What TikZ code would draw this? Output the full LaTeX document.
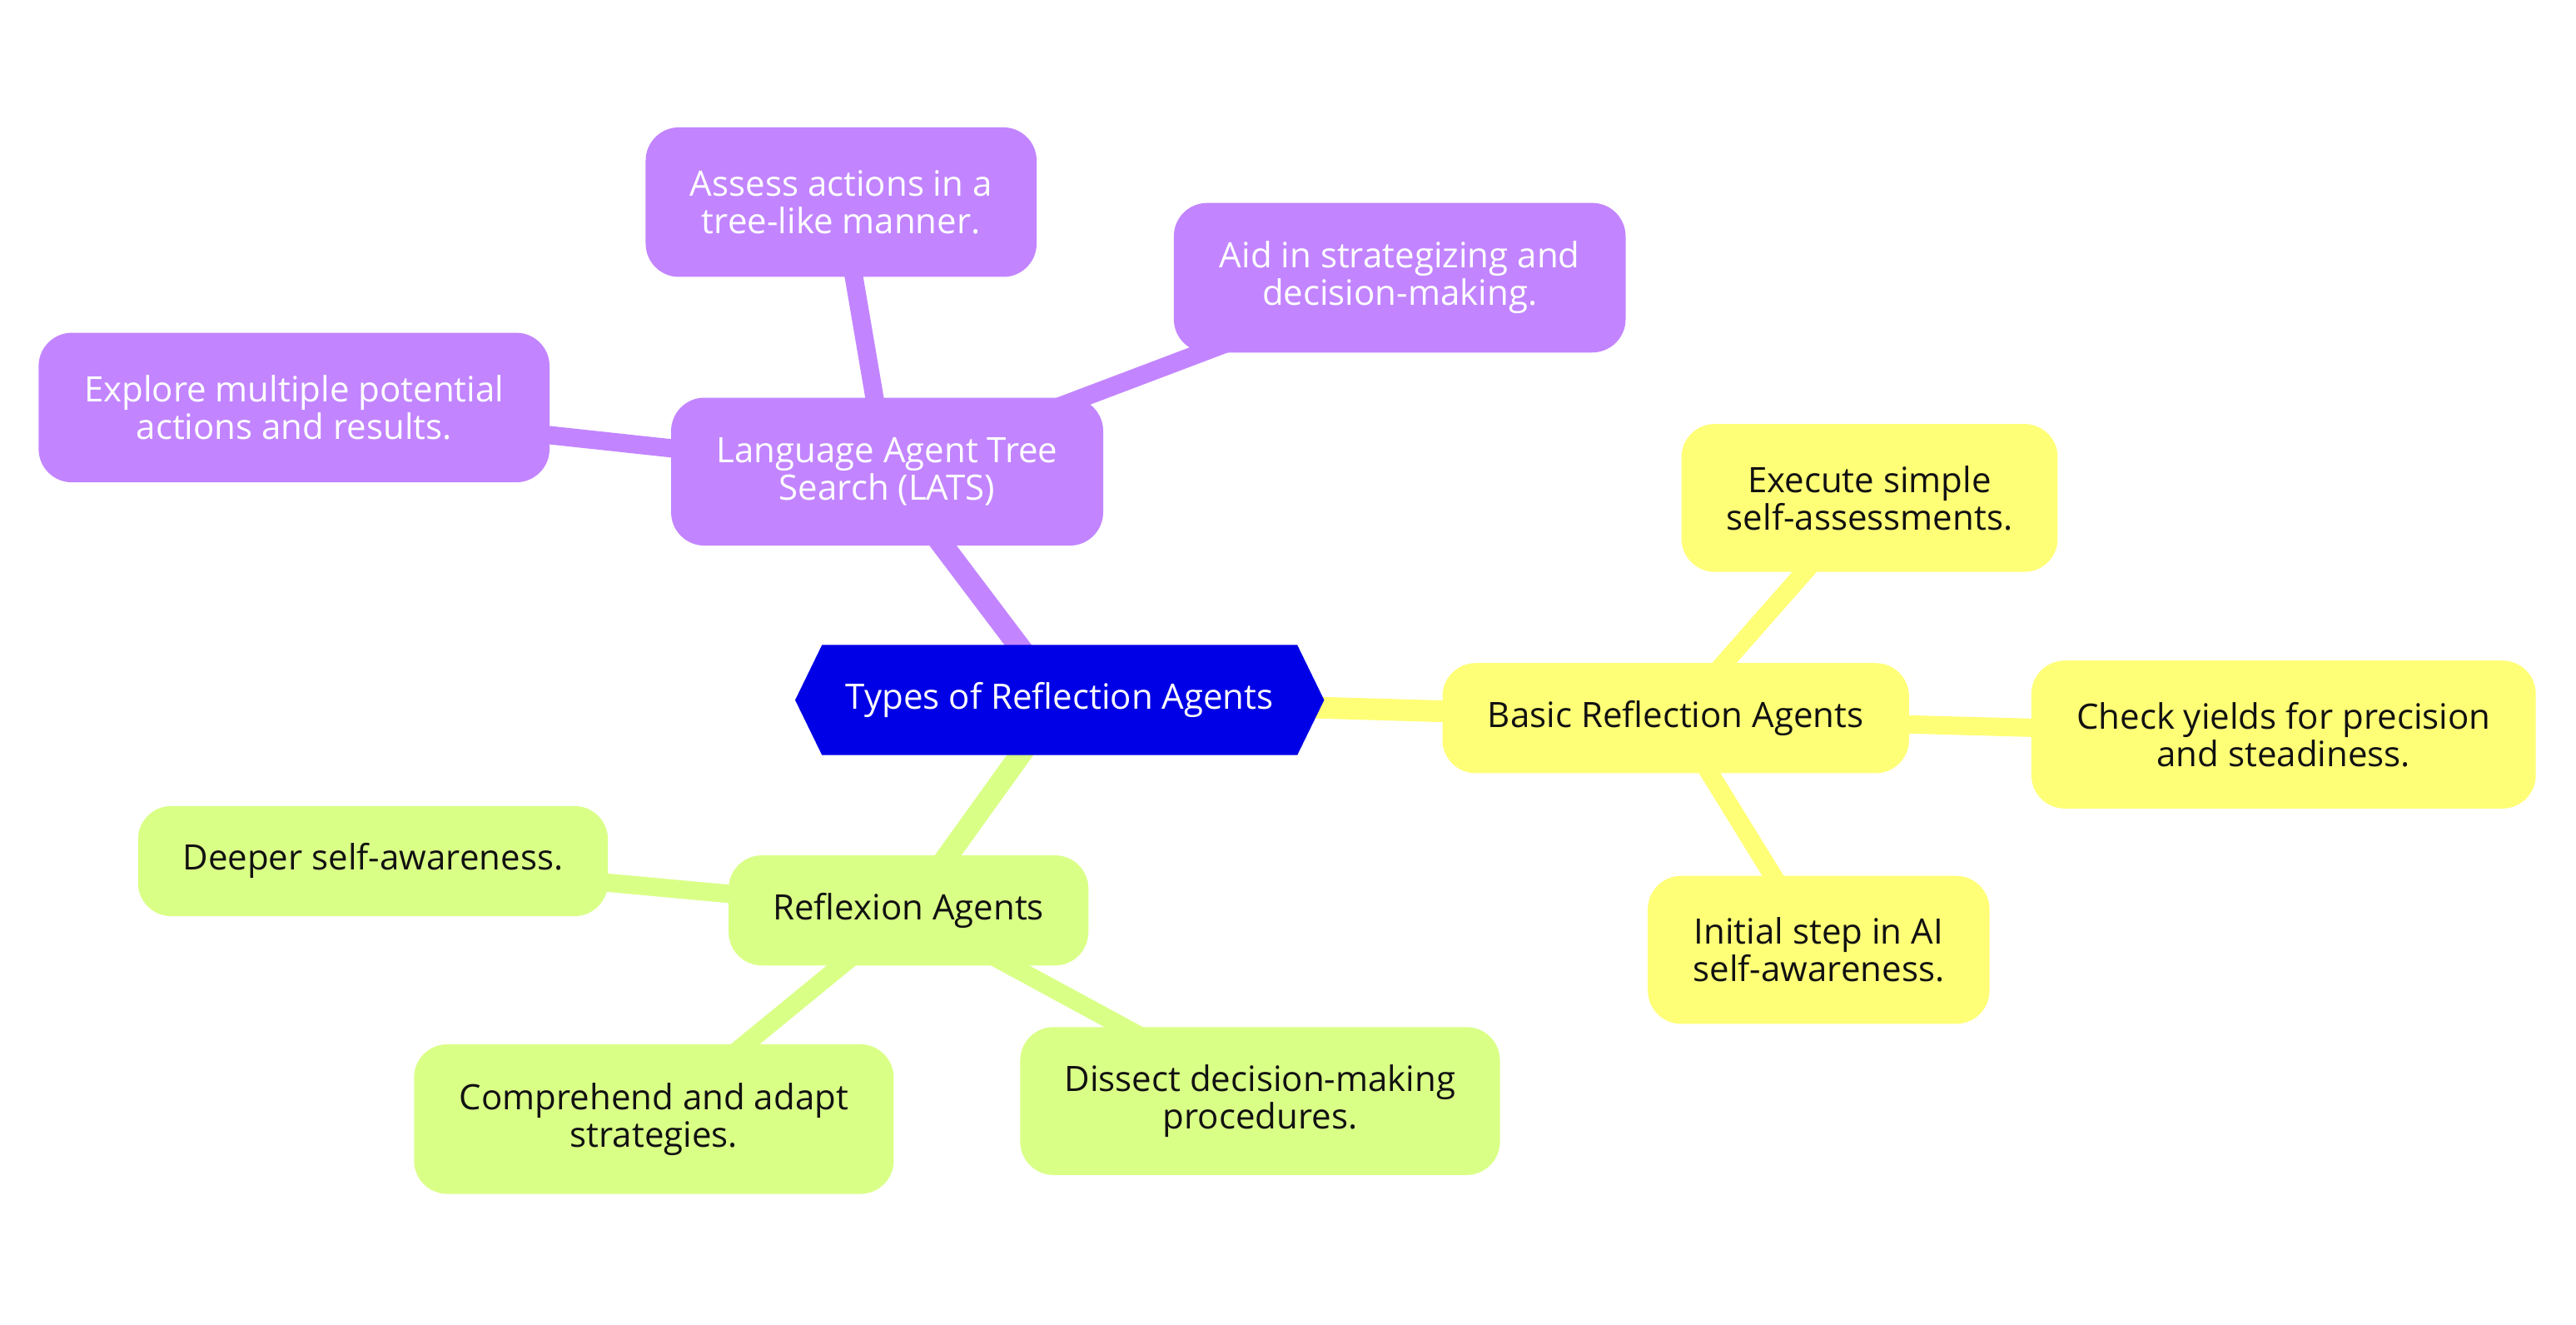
\documentclass[tikz,border=0pt]{standalone}
\usepackage{fontspec}
\setmainfont{Open Sans}
\usetikzlibrary{shapes.symbols}
\definecolor{cpurple}{HTML}{C285FF}
\definecolor{cyellow}{HTML}{FFFF77}
\definecolor{cgreen}{HTML}{DAFF87}
\definecolor{cblue}{HTML}{0000E6}
\definecolor{ctext}{HTML}{111111}
\pgfdeclarelayer{bg}
\pgfsetlayers{bg,main}
\tikzset{
  sz/.style 2 args={minimum width=#1*1.973pt, minimum height=#2*1.973pt},
  mbox/.style={rounded corners=40pt, align=center, inner sep=0pt,
     font=\fontsize{42}{45}\selectfont},
  pbox/.style={mbox, fill=cpurple, text=white},
  ybox/.style={mbox, fill=cyellow, text=ctext},
  gbox/.style={mbox, fill=cgreen, text=ctext},
  pline/.style={draw=cpurple, line width=22pt},
  yline/.style={draw=cyellow, line width=22pt},
  gline/.style={draw=cgreen, line width=22pt},
}
\begin{document}
\begin{tikzpicture}[x=1.973pt, y=-1.973pt]
\useasboundingbox (0,0) rectangle (1568,806);
% nodes
\node[signal, signal to=east and west, signal pointer angle=128, fill=cblue, text=white,
      inner sep=0pt, sz={322}{67}, font=\fontsize{42}{45}\selectfont] (root) at (645,426) {Types of Reflection Agents};
\node[pbox, sz={263}{90}] (lats) at (540,287) {Language Agent Tree\\Search (LATS)};
\node[pbox, sz={238}{91}] (assess) at (512,123) {Assess actions in a\\tree-like manner.};
\node[pbox, sz={275}{91}] (aid) at (852,169) {Aid in strategizing and\\decision-making.};
\node[pbox, sz={311}{91}] (explore) at (179,248) {Explore multiple potential\\actions and results.};
\node[ybox, sz={284}{67}] (basic) at (1020,437) {Basic Reflection Agents};
\node[ybox, sz={229}{90}] (execute) at (1138,303) {Execute simple\\self-assessments.};
\node[ybox, sz={307}{90}] (check) at (1390,447) {Check yields for precision\\and steadiness.};
\node[ybox, sz={208}{90}] (initial) at (1107,578) {Initial step in AI\\self-awareness.};
\node[gbox, sz={219}{67}] (reflexion) at (553,554) {Reflexion Agents};
\node[gbox, sz={286}{67}] (deeper) at (227,524) {Deeper self-awareness.};
\node[gbox, sz={292}{91}] (comprehend) at (398,681) {Comprehend and adapt\\strategies.};
\node[gbox, sz={292}{90}] (dissect) at (767,670) {Dissect decision-making\\procedures.};
% connectors behind
\begin{pgfonlayer}{bg}
\fill[white] (0,0) rectangle (1568,806);
\draw[pline, line width=26pt] (root.center) -- (lats.center);
\draw[pline] (lats.center) -- (assess.center);
\draw[pline] (lats.center) -- (aid.center);
\draw[pline] (lats.center) -- (explore.center);
\draw[yline, line width=26pt] (root.center) -- (basic.center);
\draw[yline] (basic.center) -- (execute.center);
\draw[yline] (basic.center) -- (check.center);
\draw[yline] (basic.center) -- (initial.center);
\draw[gline, line width=26pt] (root.center) -- (reflexion.center);
\draw[gline] (reflexion.center) -- (deeper.center);
\draw[gline] (reflexion.center) -- (comprehend.center);
\draw[gline] (reflexion.center) -- (dissect.center);
\end{pgfonlayer}
\end{tikzpicture}
\end{document}
